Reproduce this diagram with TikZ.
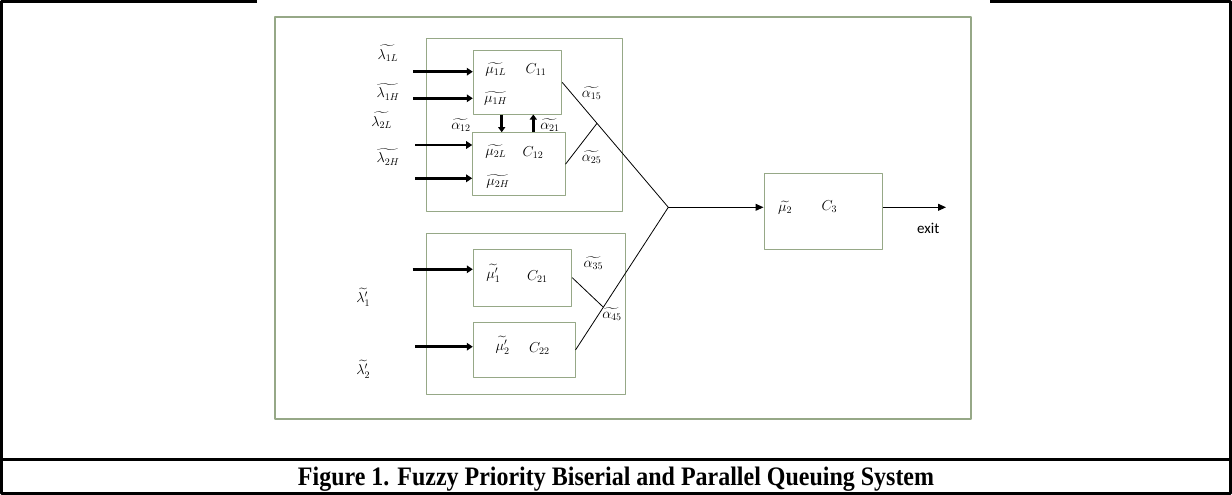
\documentclass[tikz,border=0pt]{standalone}
\usepackage{amsmath,amssymb}
\usepackage{fontspec}
\newfontfamily\capfont{Liberation Serif}
\newfontfamily\exitfont{Carlito}
\usepackage{xcolor}
\usepackage{tikz}
\usetikzlibrary{arrows.meta,calc}
\definecolor{boxgreen}{RGB}{150,168,135}

\begin{document}
\begin{tikzpicture}[x=1pt,y=-1pt,>=Stealth,line join=round,
  qbox/.style={draw=boxgreen,line width=1pt,inner sep=0pt,rectangle},
  inarr/.style={line width=2.8pt,-{Triangle[length=6pt,width=7.5pt]}},
  fbarr/.style={line width=2.6pt,-{Triangle[length=5pt,width=7pt]}},
  outarr/.style={line width=1pt,-{Triangle[length=8pt,width=7pt]}},
  lbl/.style={inner sep=0pt,font=\Large},
  frameline/.style={line width=3pt}]
  \useasboundingbox (0,0) rectangle (1232,495);
  \draw[frameline] (257,1.5) -- (1.5,1.5) -- (1.5,493.5) -- (1230.5,493.5) -- (1230.5,1.5) -- (990,1.5);
  \draw[frameline] (1.5,459.7) -- (1230.5,459.7);
  \node[anchor=base,inner sep=0pt] (cap) at (616,485) {\resizebox{636pt}{18.5pt}{\capfont\bfseries Figure 1. Fuzzy Priority Biserial and Parallel Queuing System}};
  \node[qbox,line width=1.6pt,minimum width=696,minimum height=402] (sys) at (623,218) {};
  \node[qbox,minimum width=196,minimum height=173.4] (grpA) at (524.7,125) {};
  \node[qbox,minimum width=199,minimum height=160.7] (grpB) at (526.2,313.65) {};
  \node[qbox,minimum width=88.4,minimum height=63.3] (c11) at (517.5,82.35) {};
  \node[qbox,minimum width=92.3,minimum height=63] (c12) at (518.85,164.2) {};
  \node[qbox,minimum width=98.4,minimum height=56.7] (c21) at (522.5,277.65) {};
  \node[qbox,minimum width=101.7,minimum height=54.6] (c22) at (524.15,350) {};
  \node[qbox,minimum width=118.7,minimum height=76] (c3) at (823.35,211.3) {};
  \coordinate (in1) at (413,71.7);
  \coordinate (in2) at (413,98.3);
  \coordinate (in3) at (415,145);
  \coordinate (in4) at (415,178.3);
  \coordinate (in5) at (412.7,269.3);
  \coordinate (in6) at (415,346.7);
  \draw[inarr] (in1) -- (in1 -| c11.west);
  \draw[inarr] (in2) -- (in2 -| c11.west);
  \draw[inarr] (in3) -- (in3 -| c12.west);
  \draw[inarr] (in4) -- (in4 -| c12.west);
  \draw[inarr] (in5) -- (in5 -| c21.west);
  \draw[inarr] (in6) -- (in6 -| c22.west);
  \coordinate (fb12) at (501.7,0);
  \coordinate (fb21) at (533.3,0);
  \draw[fbarr] (fb12 |- c11.south) -- (fb12 |- c12.north);
  \draw[fbarr] (fb21 |- c12.north) -- (fb21 |- c11.south);
  \coordinate (jn) at (668.3,207.3);
  \coordinate (exitpt) at (946,207.3);
  \draw[thick] (c11.east) -- (jn);
  \draw[thick] (c12.east) -- ($(c11.east)!0.328!(jn)$);
  \draw[thick] (c22.east) -- (jn);
  \draw[thick] (c21.east) -- ($(c22.east)!0.30!(jn)$);
  \draw[outarr] (jn) -- (jn -| c3.west);
  \draw[outarr] (exitpt -| c3.east) -- (exitpt);
  \node[lbl] (l1L) at (388,53) {$\widetilde{\lambda_{1L}}$};
  \node[lbl] (l1H) at (388,91.7) {$\widetilde{\lambda_{1H}}$};
  \node[lbl] (l2L) at (381.7,120) {$\widetilde{\lambda_{2L}}$};
  \node[lbl] (l2H) at (388,156.7) {$\widetilde{\lambda_{2H}}$};
  \node[lbl] (lp1) at (363.3,297.3) {$\widetilde{\lambda'_1}$};
  \node[lbl] (lp2) at (363.3,369) {$\widetilde{\lambda'_2}$};
  \node[lbl] (m1L) at (495.7,69.3) {$\widetilde{\mu_{1L}}$};
  \node[lbl] (n11) at (536,70) {$C_{11}$};
  \node[lbl] (m1H) at (495.7,98.3) {$\widetilde{\mu_{1H}}$};
  \node[lbl] (m2L) at (495.7,151.7) {$\widetilde{\mu_{2L}}$};
  \node[lbl] (n12) at (533,152.7) {$C_{12}$};
  \node[lbl] (m2H) at (498,181.7) {$\widetilde{\mu_{2H}}$};
  \node[lbl] (a12) at (461,125) {$\widetilde{\alpha_{12}}$};
  \node[lbl] (a21) at (550,125) {$\widetilde{\alpha_{21}}$};
  \node[lbl] (a15) at (591.7,92.7) {$\widetilde{\alpha_{15}}$};
  \node[lbl] (a25) at (591.7,156.7) {$\widetilde{\alpha_{25}}$};
  \node[lbl] (mp1) at (493.3,273.3) {$\widetilde{\mu'_1}$};
  \node[lbl] (n21) at (537.3,276.7) {$C_{21}$};
  \node[lbl] (mp2) at (502.7,345) {$\widetilde{\mu'_2}$};
  \node[lbl] (n22) at (539.3,348.3) {$C_{22}$};
  \node[lbl] (a35) at (593.3,263.3) {$\widetilde{\alpha_{35}}$};
  \node[lbl] (a45) at (612,314) {$\widetilde{\alpha_{45}}$};
  \node[lbl] (m3) at (785,207.3) {$\widetilde{\mu_2}$};
  \node[lbl] (n3) at (829.3,206.7) {$C_3$};
  \node[font=\exitfont\fontsize{15}{17}\selectfont,inner sep=0pt] (exitlbl) at (928.3,228.3) {exit};
\end{tikzpicture}
\end{document}
